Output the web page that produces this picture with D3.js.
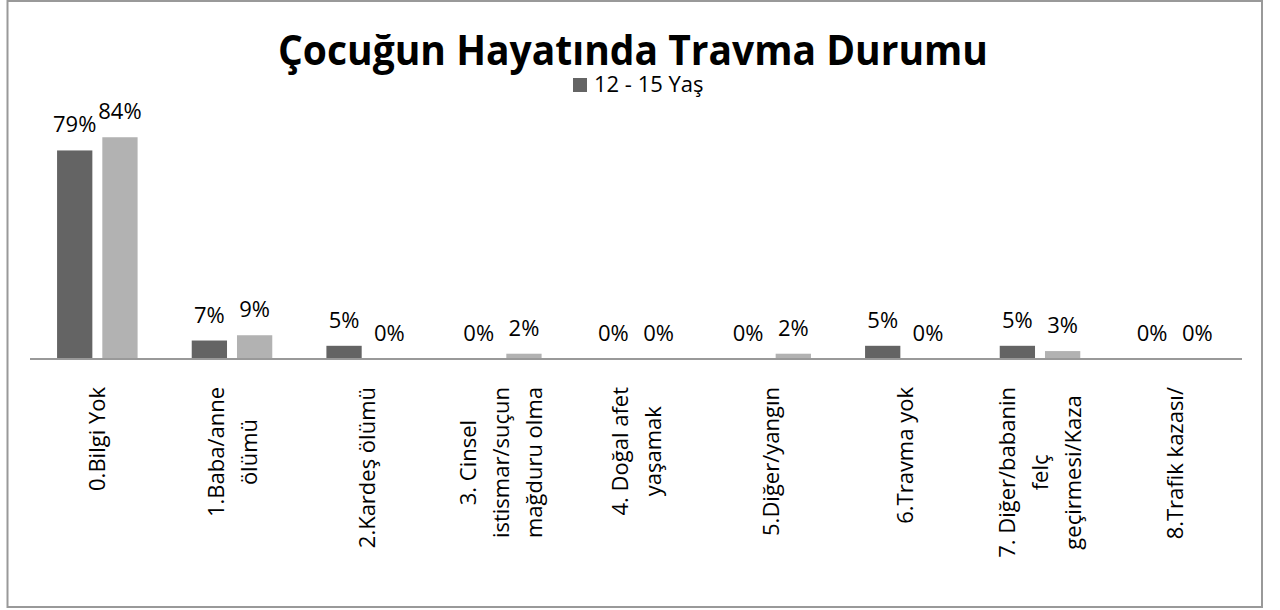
<!DOCTYPE html>
<html>
<head>
<meta charset="utf-8">
<script src="https://cdn.jsdelivr.net/npm/d3@7"></script>
<style>
  body { margin: 0; background: #fff; }
  text { font-family: "Open Sans", sans-serif; fill: #000; }
</style>
</head>
<body>
<div id="chart"></div>
<script>
// chart data
const categories = [
  ['0.Bilgi Yok'],
  ['1.Baba/anne', 'ölümü'],
  ['2.Kardeş ölümü'],
  ['3. Cinsel', 'istismar/suçun', 'mağduru olma'],
  ['4. Doğal afet', 'yaşamak'],
  ['5.Diğer/yangın'],
  ['6.Travma yok'],
  ['7. Diğer/babanin', 'felç', 'geçirmesi/Kaza'],
  ['8.Trafik kazası/']
];
const seriesDark = [79, 7, 5, 0, 0, 0, 5, 5, 0];
const seriesLight = [84, 9, 0, 2, 0, 2, 0, 3, 0];
const seriesNames = ['12 - 15 Yaş', ''];
const chartTitle = 'Çocuğun Hayatında Travma Durumu';

const width = 1280;
const height = 610;
const margin = { left: 30, right: 38, top: 95, bottom: 251 };

const svg = d3.select('#chart')
  .append('svg')
  .attr('width', width)
  .attr('height', height);

// outer frame
svg.append('rect')
  .attr('x', 7.5)
  .attr('y', 1)
  .attr('width', 1254.5)
  .attr('height', 606)
  .style('fill', '#fff')
  .style('stroke', '#999')
  .style('stroke-width', 2);

const x = d3.scaleBand()
  .domain(d3.range(categories.length))
  .range([margin.left, width - margin.right]);

const barW = x.bandwidth() * 0.262;
const barGap = x.bandwidth() * 0.074;

const y = d3.scaleLinear()
  .domain([0, 100])
  .range([height - margin.bottom, height - margin.bottom - 264]);

const series = [
  { values: seriesDark, color: '#646464', offset: -barGap / 2 - barW },
  { values: seriesLight, color: '#b2b2b2', offset: barGap / 2 }
];

const groups = svg.selectAll('g.series')
  .data(series)
  .enter()
  .append('g')
  .attr('class', 'series');

groups.selectAll('rect')
  .data(s => s.values.map((v, i) => ({ v: v, i: i, s: s })))
  .enter()
  .append('rect')
  .attr('x', d => x(d.i) + x.bandwidth() / 2 + d.s.offset)
  .attr('y', d => y(d.v))
  .attr('width', barW)
  .attr('height', d => y(0) - y(d.v))
  .style('fill', d => d.s.color);

groups.selectAll('text')
  .data(s => s.values.map((v, i) => ({ v: v, i: i, s: s })))
  .enter()
  .append('text')
  .attr('x', d => x(d.i) + x.bandwidth() / 2 + d.s.offset + barW / 2)
  .attr('y', d => y(d.v) - 18)
  .attr('text-anchor', 'middle')
  .style('font-size', '22px')
  .text(d => d.v + '%');

// baseline
svg.append('line')
  .attr('x1', margin.left)
  .attr('x2', width - margin.right)
  .attr('y1', y(0))
  .attr('y2', y(0))
  .style('stroke', '#999')
  .style('stroke-width', 2);

// category labels, rotated
const labelTop = 387;
const lineStep = 33;
const labels = svg.selectAll('g.cat')
  .data(categories)
  .enter()
  .append('g')
  .attr('class', 'cat');

labels.each(function(lines, i) {
  const g = d3.select(this);
  const texts = g.selectAll('text')
    .data(lines)
    .enter()
    .append('text')
    .attr('text-anchor', 'middle')
    .style('font-size', '22px')
    .text(d => d);
  let maxLen = 0;
  texts.each(function() {
    maxLen = Math.max(maxLen, this.getComputedTextLength());
  });
  const cx = x(i) + x.bandwidth() / 2;
  const cy = labelTop + maxLen / 2;
  texts.attr('transform', (d, j) => {
    const dx = (j - (lines.length - 1) / 2) * lineStep + 8;
    return 'translate(' + [cx + dx, cy] + ') rotate(-90)';
  });
});

// title
svg.append('text')
  .attr('x', 633)
  .attr('y', 65)
  .attr('text-anchor', 'middle')
  .style('font-size', '42px')
  .style('font-weight', 'bold')
  .attr('textLength', 710)
  .attr('lengthAdjust', 'spacingAndGlyphs')
  .text(chartTitle);

// legend
const legend = svg.append('g')
  .attr('transform', 'translate(573, 78)');

legend.append('rect')
  .attr('width', 14)
  .attr('height', 14)
  .style('fill', series[0].color);

legend.append('text')
  .attr('x', 21)
  .attr('y', 14)
  .style('font-size', '22px')
  .text(seriesNames[0]);
</script>
</body>
</html>
